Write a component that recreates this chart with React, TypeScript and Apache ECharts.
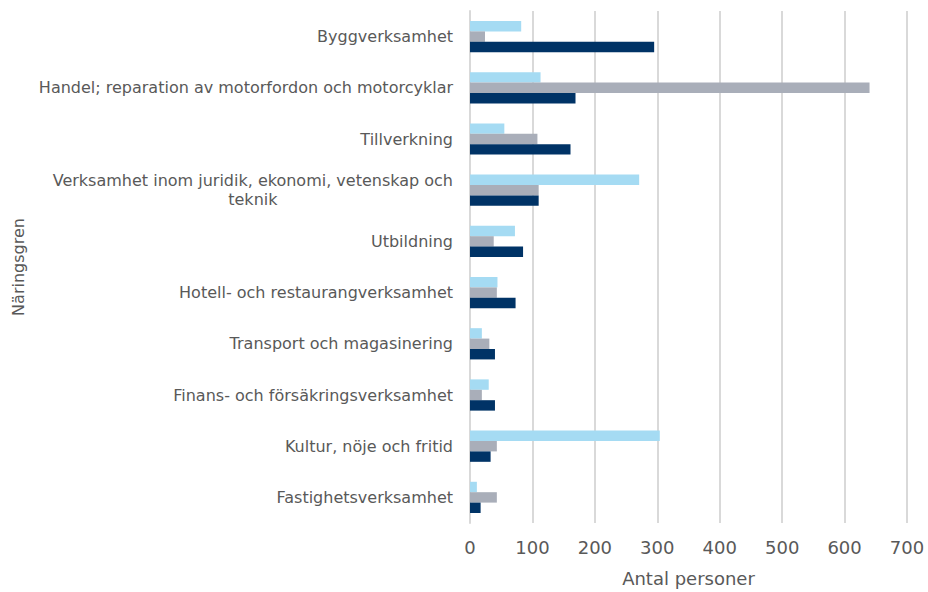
import React, { useEffect, useRef } from "react";
import * as echarts from "echarts";

const categories = [
  "Byggverksamhet",
  "Handel; reparation av motorfordon och motorcyklar",
  "Tillverkning",
  "Verksamhet inom juridik, ekonomi, vetenskap och\nteknik",
  "Utbildning",
  "Hotell- och restaurangverksamhet",
  "Transport och magasinering",
  "Finans- och försäkringsverksamhet",
  "Kultur, nöje och fritid",
  "Fastighetsverksamhet",
];

const seriesLight = [82, 113, 55, 271, 72, 44, 19, 30, 304, 11];
const seriesGray = [24, 640, 108, 110, 38, 43, 31, 19, 43, 43];
const seriesNavy = [295, 169, 161, 110, 85, 73, 40, 40, 33, 17];

const xTicks = { min: 0, max: 700, interval: 100 };

const TEXT = "#595959";
const FONT = "DejaVu Sans, Verdana, sans-serif";

export default function App() {
  const ref = useRef<HTMLDivElement>(null);

  useEffect(() => {
    if (!ref.current) return;
    const chart = echarts.init(ref.current, undefined, { renderer: "svg" });
    const mk = (name: string, data: number[], color: string) => ({
      name,
      type: "bar",
      data,
      barGap: "0%",
      barCategoryGap: "39%",
      itemStyle: { color },
    });
    chart.setOption({
      animation: false,
      backgroundColor: "#ffffff",
      grid: { left: 470, right: 21, top: 11, bottom: 46, containLabel: false },
      xAxis: {
        type: "value",
        min: xTicks.min,
        max: xTicks.max,
        interval: xTicks.interval,
        name: "Antal personer",
        nameLocation: "middle",
        nameGap: 46,
        nameTextStyle: { color: TEXT, fontSize: 18, fontFamily: FONT },
        axisLine: { show: false },
        axisTick: { show: false },
        axisLabel: { color: TEXT, fontSize: 18, fontFamily: FONT, margin: 15 },
        splitLine: { show: true, lineStyle: { color: "#d9d9d9", width: 2 } },
      },
      yAxis: {
        type: "category",
        data: categories,
        inverse: true,
        name: "Näringsgren",
        nameLocation: "middle",
        nameGap: 444,
        nameRotate: 90,
        nameTextStyle: { color: TEXT, fontSize: 16, fontFamily: FONT },
        axisLine: { show: true, lineStyle: { color: "#d9d9d9", width: 2 } },
        axisTick: { show: false },
        axisLabel: {
          color: TEXT,
          fontSize: 16,
          fontFamily: FONT,
          margin: 17,
          lineHeight: 19,
          formatter: (v: string) =>
            v
              .split("\n")
              .map((l) => "{c|" + l + "}")
              .join("\n"),
          rich: {
            c: { align: "center", color: TEXT, fontSize: 16, fontFamily: FONT, lineHeight: 19 },
          },
        },
      },
      series: [
        mk("Serie 1", seriesLight, "#a5dbf3"),
        mk("Serie 2", seriesGray, "#a9aeb9"),
        mk("Serie 3", seriesNavy, "#003366"),
      ],
    });
    return () => chart.dispose();
  }, []);

  return (
    <div
      ref={ref}
      style={{ position: "fixed", left: 0, top: 0, width: 928, height: 592 }}
    />
  );
}
